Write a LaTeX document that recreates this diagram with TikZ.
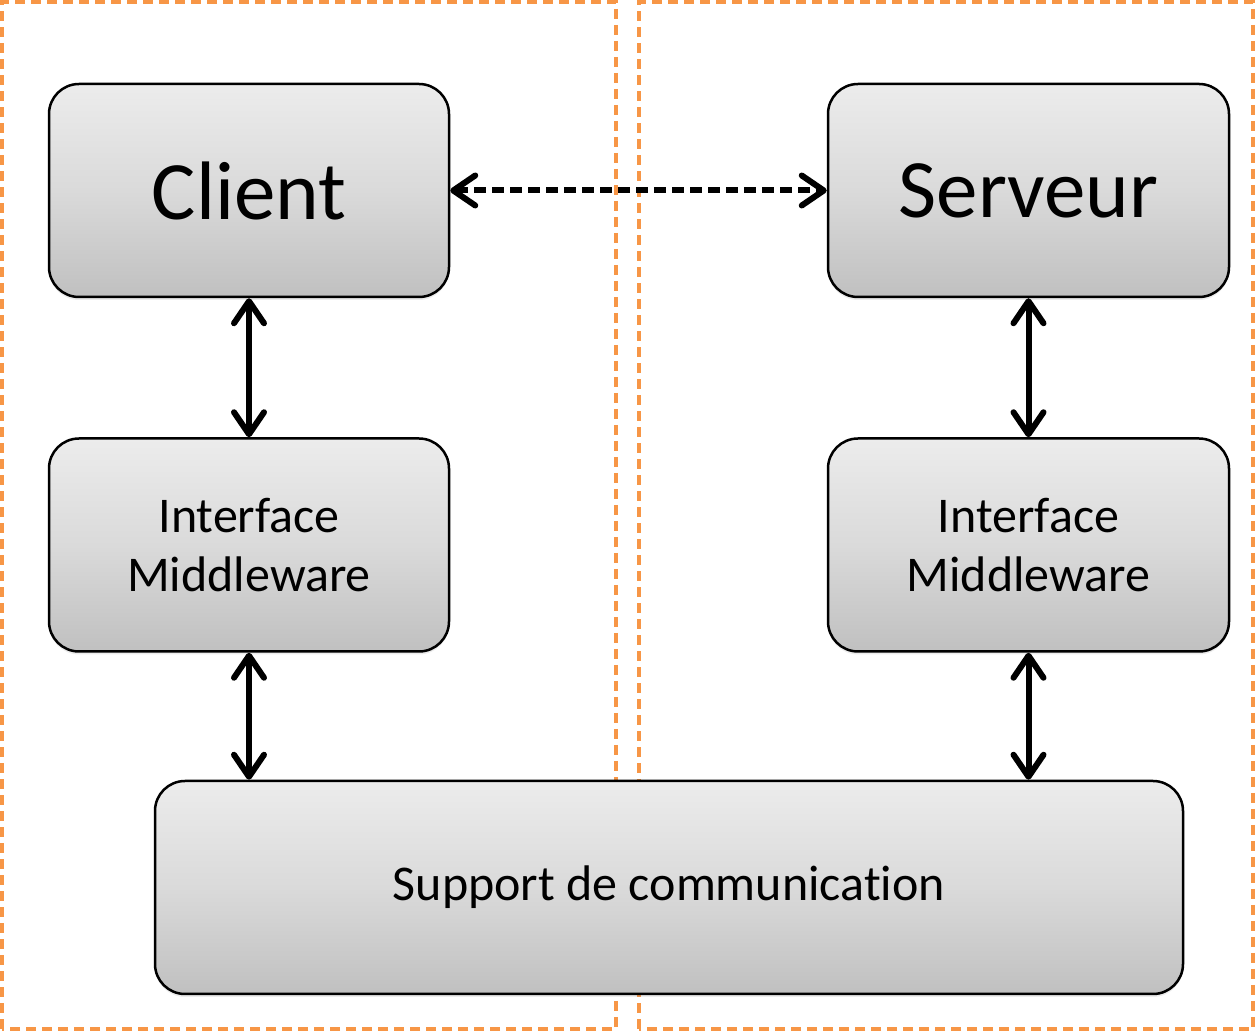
\documentclass[tikz,border=0pt]{standalone}
\usepackage{fontspec}
\setmainfont[Ligatures=NoCommon]{Carlito}
\usepackage{tikz}
\usetikzlibrary{arrows.meta,positioning,shadows}

\definecolor{frameorange}{RGB}{247,150,70}
\definecolor{boxtop}{RGB}{236,236,236}
\definecolor{boxmid}{RGB}{218,218,218}
\definecolor{boxbot}{RGB}{192,192,192}

\begin{document}
\begin{tikzpicture}[
        x=1pt,
        y=1pt,
        frame/.style={draw=frameorange, line width=4pt, dash pattern=on 10pt off 6pt},
        box/.style={draw=black, line width=2.5pt, rounded corners=30pt,
            top color=boxtop, bottom color=boxbot, middle color=boxmid,
            minimum height=213pt, align=center, inner sep=0pt,
            drop shadow={shadow xshift=0pt, shadow yshift=-3pt, opacity=0.15}},
        big/.style={font=\fontsize{83}{99}\selectfont},
        small/.style={font=\fontsize{50}{59}\selectfont},
        link/.style={{Straight Barb[length=22pt, width=30pt, line cap=round, line join=round]}-{Straight Barb[length=22pt, width=30pt, line cap=round, line join=round]}, line width=6pt},
        talk/.style={link, dash pattern=on 12pt off 6pt}
    ]
        \useasboundingbox (0,0) rectangle (1256,1031);

        % the two machines
        \draw[frame] (2,2) rectangle (616,1029);
        \draw[frame] (639,2) rectangle (1253,1029);

        % client side
        \node[box, big, minimum width=400pt] (client) at (249,840.5) {Client};
        \node[box, small, minimum width=400pt] (midleft) at (249,486) {Interface\\Middleware};

        % server side
        \node[box, big, minimum width=401pt] (server) at (1028.5,840.5) {Serveur};
        \node[box, small, minimum width=401pt] (midright) at (1028.5,486) {Interface\\Middleware};

        % shared transport
        \node[box, small, minimum width=1028pt] (support) at (669,143.5) {Support de communication};

        \draw[talk] (client.east) -- (server.west);
        \draw[link] (client.south) -- (midleft.north);
        \draw[link] (server.south) -- (midright.north);
        \draw[link] (midleft.south) -- (midleft.south |- support.north);
        \draw[link] (midright.south) -- (midright.south |- support.north);
    \end{tikzpicture}
\end{document}
